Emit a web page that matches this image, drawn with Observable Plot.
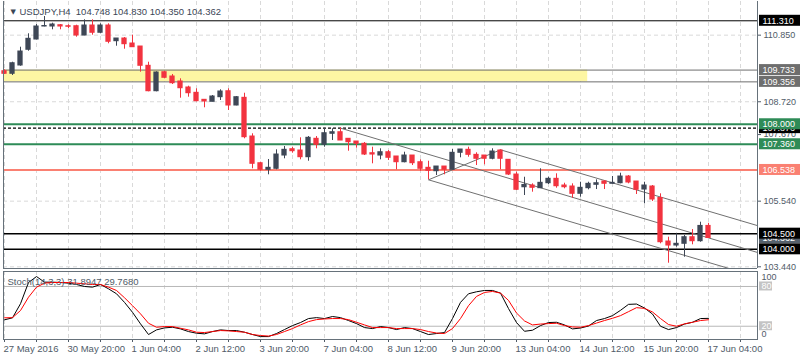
<!DOCTYPE html>
<html><head><meta charset="utf-8">
<script src="https://cdn.jsdelivr.net/npm/d3@7"></script>
<script src="https://cdn.jsdelivr.net/npm/@observablehq/plot@0.6"></script>
<style>
body{margin:0;background:#fff;}
#chart{position:relative;width:800px;height:360px;overflow:hidden;background:#fff;}
#chart svg{position:absolute;left:0;}
</style></head><body><div id="chart"></div>
<script>
// ---------- data ----------
const symbolTitle = "USDJPY,H4";
const lastOHLC = ["104.748", "104.830", "104.350", "104.362"];
const stochTitle = "Stoch(14,3,3) 31.8947 29.7680";

const opens  = [109.697,109.614,109.880,110.382,110.711,111.127,111.127,111.169,111.137,111.137,110.839,111.159,110.926,111.159,110.657,110.743,110.583,110.487,109.870,109.057,109.665,109.528,109.368,109.176,109.006,108.782,108.718,108.866,109.057,108.600,108.846,107.608,106.754,106.543,106.575,107.000,107.202,107.160,106.946,107.535,107.343,107.695,107.746,107.535,107.448,107.375,107.074,107.000,107.106,106.969,106.786,107.000,106.786,106.607,106.498,106.648,106.543,107.087,107.183,107.022,107.000,106.895,107.160,106.863,106.392,105.985,106.041,105.955,106.114,106.255,106.041,106.009,105.775,105.955,106.063,106.168,106.095,106.114,106.328,106.168,105.912,106.009,105.641,104.249,104.121,104.176,104.387,104.259,104.748];
const highs  = [109.742,109.985,110.465,110.894,111.191,111.447,111.233,111.191,111.182,111.169,111.342,111.342,111.213,111.213,110.743,110.775,110.849,110.487,109.985,109.678,109.697,109.592,109.454,109.217,109.134,108.782,108.920,109.102,109.134,108.888,108.993,107.695,106.786,106.873,107.183,107.288,107.266,107.567,107.608,107.608,107.860,107.855,107.880,107.535,107.448,107.416,107.266,107.215,107.160,106.969,107.106,107.000,106.863,106.818,106.648,106.648,107.192,107.192,107.266,107.087,107.000,107.215,107.183,106.863,106.466,106.305,106.095,106.575,106.306,106.415,106.114,106.095,106.146,106.146,106.223,106.200,106.328,106.434,106.360,106.168,106.146,106.041,105.775,104.387,104.496,104.441,104.633,104.867,104.830];
const lows   = [109.592,109.560,109.857,110.337,110.702,111.117,111.022,111.022,111.054,110.785,110.830,110.849,110.894,110.574,110.497,110.401,110.465,109.665,109.038,109.038,109.454,109.272,108.834,108.866,108.718,108.527,108.718,108.760,108.440,108.590,107.535,106.575,106.498,106.383,106.543,106.895,107.074,106.863,106.818,107.215,107.266,107.480,107.480,107.138,107.234,107.000,106.735,106.863,106.841,106.543,106.766,106.680,106.498,106.223,106.360,106.383,106.543,106.927,106.946,106.680,106.703,106.863,106.543,106.360,105.880,105.721,105.827,105.955,106.073,105.955,105.935,105.634,105.666,105.903,105.912,105.912,106.095,106.095,106.095,105.753,105.455,105.529,104.176,103.555,104.067,103.747,104.144,104.227,104.350];
const closes = [109.614,109.953,110.327,110.734,111.127,111.143,111.191,111.127,111.118,110.839,111.159,110.926,111.159,110.638,110.743,110.561,110.465,109.870,109.057,109.656,109.486,109.313,109.153,108.993,108.738,108.728,108.888,109.048,108.600,108.866,107.586,106.735,106.543,106.607,107.032,107.183,107.138,106.946,107.567,107.343,107.714,107.746,107.480,107.426,107.375,107.032,107.032,107.106,106.927,106.786,107.000,106.754,106.575,106.511,106.648,106.543,107.087,107.192,107.022,106.895,106.895,107.128,106.895,106.392,105.903,106.058,105.967,106.127,106.255,106.018,105.986,105.775,105.967,106.095,106.114,106.095,106.127,106.328,106.137,105.903,106.041,105.593,104.227,104.121,104.176,104.387,104.259,104.748,104.362];

const stochMain   = [29.7,32.7,54,86,95,86.5,86.5,86,85,83,80,79,83,76.5,69,56,41,23.6,7.5,14.5,17.5,18.5,16,12,9.5,8.5,12,14.5,13.5,13.5,11,7.5,4.4,4.4,9,15,21,25.6,31.6,33,31.6,34.7,33,28.6,24,18,16.5,19.5,18,15,18,16.5,12,7.5,9,10.5,31.6,56,69,72,74,74,70,46.7,25.6,12.4,14,21,25.6,26,22,16,17.3,20.3,28.6,31.6,36,44,53,53.5,47.5,38.4,20,15,18,23.3,26,31.6,31.9];
const stochSignal = [32.7,33,43.7,63.8,79,85,86,86,86,85,84,83,83,79,74,63,51,38.7,24.5,18.5,19.5,19.5,17,14.5,11,10.5,12,13.5,13,12,11,7.5,6,5.2,7.5,12,16.5,22,27,30,31,31.6,31.6,30,26,22,18,18,18,16.5,16.5,16.5,15,12,9.8,9,16.5,31.6,51,65,71,72.5,70,59,40,28,22,23.3,24,24.5,21,19,18.5,21,24.8,28.6,32,36,42,48,47,41.5,31.6,22.6,20,23.6,26,28.6,29.8];

const timeLabels     = ["27 May 2016","30 May 20:00","1 Jun 04:00","2 Jun 12:00","3 Jun 20:00","7 Jun 04:00","8 Jun 12:00","9 Jun 20:00","13 Jun 04:00","14 Jun 12:00","15 Jun 20:00","17 Jun 04:00"];
const timeLabelBars  = [0,8,16,24,32,40,48,56,64,72,80,88];
const gridBars       = [0,4,8,12,16,20,24,28,32,36,40,44,48,52,56,60,64,68,72,76,80,84,88,92];

const priceTicks = [110.850,108.720,107.670,105.540,103.440];
const gridPrices = [110.850,108.720,105.540,103.440];

// horizontal objects
const levelPrices = [111.310, 109.733, 109.356, 108.000, 107.876, 107.360, 106.538, 104.500, 104.000];
const levelColors = ["#000000","#6e6e6e","#6e6e6e","#2e8b57","#000000","#2e8b57","#fa8072","#000000","#000000"];
const levelWidths = [1, 1, 1, 2, 1.3, 2, 2, 1.5, 1.5];
const levelDashed = [false,false,false,false,true,false,false,false,false];
const bidPrice = 104.362;

// zone (rectangle object)
const zoneFromBar = -2, zoneToBar = 72.9, zoneLow = 109.356, zoneHigh = 109.733;

// trend / channel lines: start bar, start price, end bar, end price
const trendStartBar   = [42, 62, 53, 53];
const trendStartPrice = [107.876, 107.183, 106.223, 106.223];
const trendEndBar     = [94.125, 94.125, 62, 94.125];
const trendEndPrice   = [103.898, 104.758, 107.183, 103.118];

const stochLevels = [80, 20];

// ---------- build ----------
const FONT = "'Liberation Sans', Arial, sans-serif";
const UP = "#3e4756", DOWN = "#f2333f";
const GRID = "#d9d9d9", FRAME = "#66717a", AXIS = "#505b68", TITLE = "#3b4656";
const xDomain = [-0.125, 94.125];
const xEnd = xDomain[1];

const candles = opens.map((o, i) => ({i, o, h: highs[i], l: lows[i], c: closes[i], up: closes[i] >= o}));
const levels = levelPrices.map((p, k) => ({price: p, color: levelColors[k], width: levelWidths[k], dashed: levelDashed[k]}));
const backLabels = [
  {price: levels[4].price, bg: "#000000"},
  {price: bidPrice, bg: "#56616c"}
];
const frontLabels = levels.filter(d => !d.dashed).map(d => ({price: d.price, bg: d.color}));
const trends = trendStartBar.map((b, k) => ({x1: b, y1: trendStartPrice[k], x2: trendEndBar[k], y2: trendEndPrice[k]}));
const zones = [{x1: zoneFromBar, x2: zoneToBar, y1: zoneLow, y2: zoneHigh}];
const stochRows = stochMain.map((k, i) => ({i, k, d: stochSignal[i]}));
const timeRows = timeLabels.map((t, j) => ({i: timeLabelBars[j], t}));

const boxMarks = (rows) => [
  Plot.rect(rows, {x1: () => xEnd, x2: () => xEnd, y1: "price", y2: "price", fill: "bg",
    insetLeft: 2, insetRight: -43, insetTop: -5.5, insetBottom: -5.5}),
  Plot.text(rows, {x: () => xEnd, y: "price", text: d => d.price.toFixed(3), dx: 5, textAnchor: "start",
    fill: "#ffffff", fontSize: 9, fontFamily: FONT})
];

const main = Plot.plot({
  width: 800, height: 270, marginLeft: 3, marginRight: 43, marginTop: 1, marginBottom: 2,
  style: {fontFamily: FONT, fontSize: "9px", color: AXIS, background: "transparent", overflow: "visible"},
  x: {domain: xDomain, axis: null},
  y: {domain: [103.386, 111.927], axis: "right", ticks: priceTicks, tickFormat: d3.format(".3f"),
      tickSize: 3, tickPadding: 3, label: null},
  marks: [
    Plot.ruleX(gridBars, {stroke: GRID, strokeDasharray: "4,3"}),
    Plot.ruleY(gridPrices, {stroke: GRID, strokeDasharray: "4,3"}),
    Plot.rect(zones, {x1: "x1", x2: "x2", y1: "y1", y2: "y2", fill: "#fdf6a3", clip: true}),
    Plot.ruleY(levels.filter(d => !d.dashed), {y: "price", stroke: "color", strokeWidth: "width"}),
    Plot.ruleY(levels.filter(d => d.dashed), {y: "price", stroke: "color", strokeWidth: "width", strokeDasharray: "3,2"}),
    Plot.link(trends, {x1: "x1", y1: "y1", x2: "x2", y2: "y2", stroke: "#707070", strokeWidth: 1, clip: true}),
    Plot.ruleX(candles, {x: "i", y1: "l", y2: "h", stroke: d => d.up ? UP : DOWN, strokeWidth: 1}),
    Plot.rect(candles, {x1: d => d.i - 0.33, x2: d => d.i + 0.33, y1: "o", y2: "c",
      fill: d => d.up ? UP : DOWN, insetTop: -0.5, insetBottom: -0.5}),
    ...boxMarks(backLabels),
    ...boxMarks(frontLabels),
    Plot.ruleX([xDomain[0], xDomain[1]], {stroke: FRAME}),
    Plot.ruleY([103.386], {stroke: FRAME}),
    Plot.text(["\u25BC"], {frameAnchor: "top-left", dx: 7, dy: 10, lineAnchor: "middle", textAnchor: "start",
      fontSize: 7, fill: TITLE, fontFamily: "DejaVu Sans"}),
    Plot.text([symbolTitle + "\u00a0\u00a0" + lastOHLC.join(" ")], {frameAnchor: "top-left", dx: 16, dy: 10,
      lineAnchor: "middle", textAnchor: "start", fontSize: 9.5, fill: TITLE, fontFamily: FONT})
  ]
});
main.style.top = "0px";

const stoch = Plot.plot({
  width: 800, height: 90, marginLeft: 3, marginRight: 43, marginTop: 1, marginBottom: 21,
  style: {fontFamily: FONT, fontSize: "9px", color: AXIS, background: "transparent", overflow: "visible"},
  x: {domain: xDomain, axis: "bottom", ticks: gridBars, tickFormat: () => "", tickSize: 3, label: null},
  y: {domain: [0, 102.6], axis: null},
  marks: [
    Plot.ruleX(gridBars, {stroke: GRID, strokeDasharray: "4,3"}),
    Plot.ruleY(stochLevels, {stroke: "#b8b8b8"}),
    Plot.line(stochRows, {x: "i", y: "k", stroke: "#000000", strokeWidth: 1, curve: "linear"}),
    Plot.line(stochRows, {x: "i", y: "d", stroke: "#ff0000", strokeWidth: 1, curve: "linear"}),
    Plot.rect(stochLevels, {x1: () => xEnd, x2: () => xEnd, y1: d => d, y2: d => d, fill: "#c4c4c4",
      insetLeft: 2, insetRight: -15, insetTop: -4.5, insetBottom: -4.5}),
    Plot.text(stochLevels, {x: () => xEnd, y: d => d, text: d => String(d), dx: 4, textAnchor: "start", fill: "#ffffff", fontSize: 9}),
    Plot.text([100], {x: () => xEnd, y: d => d, text: d => String(d), dx: 4, dy: 4, textAnchor: "start", fill: AXIS, fontSize: 9}),
    Plot.text([0], {x: () => xEnd, y: d => d, text: d => String(d), dx: 4, dy: -5, textAnchor: "start", fill: AXIS, fontSize: 9}),
    Plot.frame({stroke: FRAME}),
    Plot.text([stochTitle], {frameAnchor: "top-left", dx: 4, dy: 10, lineAnchor: "middle", textAnchor: "start",
      fill: AXIS, fontSize: 9.5}),
    Plot.text(timeRows, {x: "i", y: () => 0, text: "t", dx: -1, dy: 9, lineAnchor: "middle", textAnchor: "start",
      fill: AXIS, fontSize: 9.5})
  ]
});
stoch.style.top = "270px";

const root = document.getElementById("chart");
root.appendChild(main);
root.appendChild(stoch);
</script>
</body></html>
